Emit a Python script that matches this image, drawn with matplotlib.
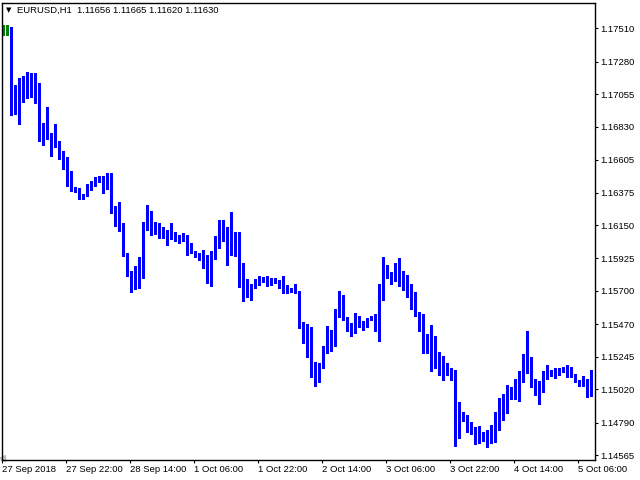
import numpy as np
import matplotlib.pyplot as plt

plt.rcParams['font.family'] = ['Liberation Sans', 'DejaVu Sans']

# header line (symbol, timeframe, OHLC of the last bar)
symbol_info = 'EURUSD,H1  1.11656 1.11665 1.11620 1.11630'

# time axis labels, one every 16 H1 bars
time_labels = ['27 Sep 2018', '27 Sep 22:00', '28 Sep 14:00', '1 Oct 06:00',
               '1 Oct 22:00', '2 Oct 14:00', '3 Oct 06:00', '3 Oct 22:00',
               '4 Oct 14:00', '5 Oct 06:00']

price_ticks = [1.17510, 1.17280, 1.17055, 1.16830, 1.16605, 1.16375, 1.16150,
               1.15925, 1.15700, 1.15470, 1.15245, 1.15020, 1.14790, 1.14565]

# first two bars (green)
green_high = [1.17533, 1.17533]
green_low = [1.17460, 1.17460]

# H1 bars, high / low
high = [
    1.17521, 1.17119, 1.17167, 1.17181, 1.17209, 1.17202, 1.17202, 1.17133, 1.16857, 1.16967,
    1.16788, 1.16850, 1.16733, 1.16664, 1.16622, 1.16526, 1.16416, 1.16409, 1.16367, 1.16436,
    1.16457, 1.16484, 1.16491, 1.16491, 1.16512, 1.16512, 1.16284, 1.16312, 1.16167, 1.15960,
    1.15836, 1.15871, 1.15933, 1.16174, 1.16291, 1.16250, 1.16174, 1.16167, 1.16140, 1.16119,
    1.16167, 1.16105, 1.16084, 1.16098, 1.16084, 1.16029, 1.15974, 1.15960, 1.15981, 1.15946,
    1.15974, 1.16078, 1.16188, 1.16188, 1.16140, 1.16243, 1.16105, 1.16105, 1.15891, 1.15781,
    1.15746, 1.15781, 1.15802, 1.15795, 1.15802, 1.15788, 1.15788, 1.15774, 1.15802, 1.15740,
    1.15719, 1.15746, 1.15698, 1.15484, 1.15471, 1.15450, 1.15209, 1.15202, 1.15319, 1.15457,
    1.15429, 1.15574, 1.15698, 1.15671, 1.15519, 1.15478, 1.15546, 1.15526, 1.15491, 1.15512,
    1.15526, 1.15540, 1.15746, 1.15933, 1.15878, 1.15829, 1.15891, 1.15926, 1.15836, 1.15809,
    1.15746, 1.15691, 1.15553, 1.15540, 1.15402, 1.15464, 1.15388, 1.15278, 1.15250, 1.15202,
    1.15167, 1.15153, 1.14933, 1.14864, 1.14843, 1.14795, 1.14760, 1.14767, 1.14726, 1.14740,
    1.14774, 1.14864, 1.14960, 1.14988, 1.15050, 1.15036, 1.15091, 1.15146, 1.15264, 1.15422,
    1.15243, 1.15091, 1.15077, 1.15146, 1.15188, 1.15153, 1.15167, 1.15167, 1.15174, 1.15188,
    1.15174, 1.15126, 1.15084, 1.15112, 1.15091, 1.15153,
]
low = [
    1.16905, 1.16912, 1.16843, 1.16995, 1.17022, 1.17029, 1.16988, 1.16726, 1.16698, 1.16740,
    1.16622, 1.16684, 1.16602, 1.16533, 1.16416, 1.16381, 1.16374, 1.16326, 1.16326, 1.16347,
    1.16388, 1.16416, 1.16443, 1.16367, 1.16395, 1.16229, 1.16140, 1.16105, 1.15933, 1.15795,
    1.15684, 1.15705, 1.15712, 1.15781, 1.16112, 1.16078, 1.16084, 1.16057, 1.16057, 1.16009,
    1.16050, 1.16036, 1.16022, 1.16036, 1.15940, 1.15953, 1.15926, 1.15905, 1.15850, 1.15746,
    1.15726, 1.15912, 1.15988, 1.16036, 1.15871, 1.15940, 1.15933, 1.15719, 1.15622, 1.15650,
    1.15629, 1.15712, 1.15733, 1.15753, 1.15726, 1.15733, 1.15746, 1.15712, 1.15678, 1.15678,
    1.15684, 1.15678, 1.15436, 1.15333, 1.15236, 1.15098, 1.15036, 1.15064, 1.15160, 1.15264,
    1.15278, 1.15312, 1.15512, 1.15491, 1.15415, 1.15381, 1.15402, 1.15443, 1.15422, 1.15443,
    1.15491, 1.15415, 1.15346, 1.15629, 1.15781, 1.15740, 1.15760, 1.15726, 1.15698, 1.15650,
    1.15567, 1.15519, 1.15415, 1.15264, 1.15264, 1.15140, 1.15160, 1.15112, 1.15077, 1.15112,
    1.15077, 1.14622, 1.14677, 1.14795, 1.14719, 1.14705, 1.14636, 1.14643, 1.14657, 1.14615,
    1.14643, 1.14650, 1.14733, 1.14802, 1.14850, 1.14946, 1.14946, 1.14933, 1.15064, 1.15126,
    1.15029, 1.14974, 1.14912, 1.14995, 1.15084, 1.15105, 1.15091, 1.15112, 1.15133, 1.15098,
    1.15098, 1.15064, 1.15036, 1.15036, 1.14960, 1.14967,
]

fig = plt.figure(figsize=(6.4, 4.8), dpi=100)
ax = fig.add_axes([2 / 640, 20.5 / 480, 593 / 640, 457 / 480])

x_green = np.arange(-len(green_high), 0)
x = np.arange(len(high))
ax.bar(x_green, np.subtract(green_high, green_low), bottom=green_low,
       width=0.75, color='#008000', linewidth=0, antialiased=False)
ax.bar(x, np.subtract(high, low), bottom=low, width=0.75,
       color='#0000ff', linewidth=0, antialiased=False)

ax.set_xlim(-2.375, len(high) - 0.125)
ax.set_ylim(1.14536, 1.17688)

ax.yaxis.tick_right()
ax.set_yticks(price_ticks, [f'{p:.5f}' for p in price_ticks])

tick_x = np.arange(-len(green_high), len(high), 16) - 0.375
ax.set_xticks(tick_x, time_labels)
for lbl in ax.get_xticklabels():
    lbl.set_ha('left')

ax.tick_params(axis='both', direction='out', length=2.5, width=0.8,
               labelsize=6.8, pad=1.5, colors='black')
for sp in ax.spines.values():
    sp.set_linewidth(1)
    sp.set_color('black')

# small grey marker in the lower left corner
ax.plot([-2.3], [1.14548], marker='<', markersize=4, color='#c0c0c0',
        clip_on=False)

fig.text(9 / 640, 1 - 10.5 / 480, '\u25bc', fontsize=5, ha='center',
         va='center', family='DejaVu Sans')
fig.text(17 / 640, 1 - 10.5 / 480, symbol_info, fontsize=6.8, va='center')

fig.savefig('out.png', dpi=100)
